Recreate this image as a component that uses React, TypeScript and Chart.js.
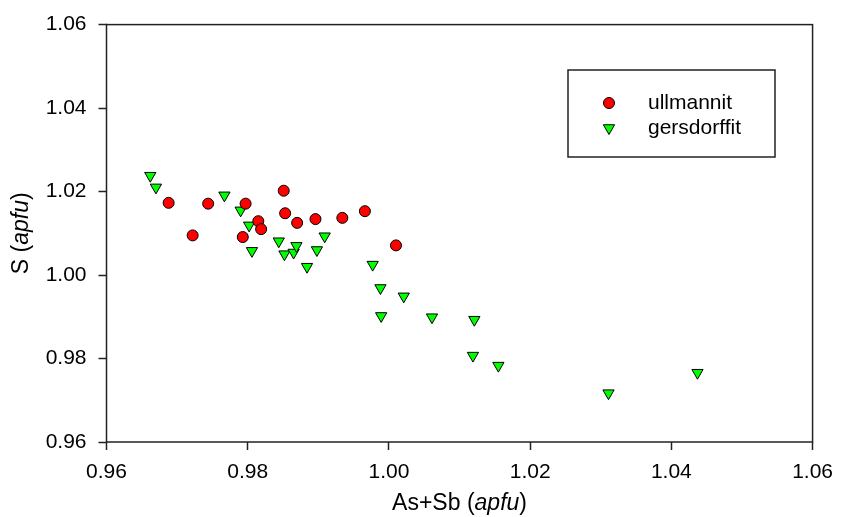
import React, { useEffect, useRef } from "react";
import { Chart, registerables } from "chart.js";

Chart.register(...registerables);

// ---- Data ----
const X_TICKS = [0.96, 0.98, 1.0, 1.02, 1.04, 1.06];
const Y_TICKS = [0.96, 0.98, 1.0, 1.02, 1.04, 1.06];

const SERIES_NAMES = ["ullmannit", "gersdorffit"];

const ULL_X = [0.9688, 0.9722, 0.9744, 0.9797, 0.9793, 0.9815, 0.9819, 0.9851, 0.9853, 0.987, 0.9896, 0.9934, 0.9966, 1.001];
const ULL_Y = [1.0173, 1.0095, 1.0171, 1.0171, 1.0091, 1.0129, 1.011, 1.0202, 1.0148, 1.0125, 1.0134, 1.0137, 1.0153, 1.0071];

const GER_X = [0.9662, 0.967, 0.9767, 0.979, 0.9802, 0.9806, 0.9844, 0.9852, 0.9865, 0.9869, 0.9884, 0.9898, 0.9909, 0.9977, 0.9988, 0.9989, 1.0021, 1.0061, 1.0121, 1.0119, 1.0155, 1.0311, 1.0437];
const GER_Y = [1.0238, 1.021, 1.0191, 1.0155, 1.0119, 1.0058, 1.0081, 1.005, 1.0054, 1.007, 1.002, 1.006, 1.0093, 1.0025, 0.9969, 0.9902, 0.9949, 0.9899, 0.9893, 0.9807, 0.9783, 0.9717, 0.9766];

const X_TITLE = [
  { text: "As+Sb (", italic: false },
  { text: "apfu", italic: true },
  { text: ")", italic: false },
];
const Y_TITLE = [
  { text: "S (", italic: false },
  { text: "apfu", italic: true },
  { text: ")", italic: false },
];

const FONT_FAMILY = "'Liberation Sans', Arial, sans-serif";
const AXIS_COLOR = "#222222";

type Part = { text: string; italic: boolean };

function drawRich(ctx: CanvasRenderingContext2D, parts: Part[], size: number) {
  const fontFor = (p: Part) => `${p.italic ? "italic " : ""}${size}px ${FONT_FAMILY}`;
  let total = 0;
  const widths = parts.map((p) => {
    ctx.font = fontFor(p);
    const w = ctx.measureText(p.text).width;
    total += w;
    return w;
  });
  let x = -total / 2;
  ctx.textAlign = "left";
  ctx.textBaseline = "middle";
  ctx.fillStyle = "#000";
  parts.forEach((p, i) => {
    ctx.font = fontFor(p);
    ctx.fillText(p.text, x, 0);
    x += widths[i];
  });
}

function drawMarker(ctx: CanvasRenderingContext2D, style: string, x: number, y: number, r: number, fill: string) {
  ctx.beginPath();
  if (style === "circle") {
    ctx.arc(x, y, r, 0, Math.PI * 2);
  } else {
    const h = r;
    ctx.moveTo(x, y + h);
    ctx.lineTo(x - h * Math.sin(Math.PI / 3), y - h / 2);
    ctx.lineTo(x + h * Math.sin(Math.PI / 3), y - h / 2);
    ctx.closePath();
  }
  ctx.fillStyle = fill;
  ctx.fill();
  ctx.lineWidth = 1;
  ctx.strokeStyle = "#000";
  ctx.stroke();
}

const decorPlugin = {
  id: "decor",
  afterDraw(chart: any) {
    const ctx: CanvasRenderingContext2D = chart.ctx;
    const a = chart.chartArea;
    ctx.save();
    // frame
    ctx.strokeStyle = AXIS_COLOR;
    ctx.lineWidth = 1.5;
    ctx.strokeRect(a.left, a.top, a.right - a.left, a.bottom - a.top);

    // axis titles
    ctx.save();
    ctx.translate((a.left + a.right) / 2, 504);
    drawRich(ctx, X_TITLE, 23);
    ctx.restore();

    ctx.save();
    ctx.translate(22, (a.top + a.bottom) / 2);
    ctx.rotate(-Math.PI / 2);
    drawRich(ctx, Y_TITLE, 23);
    ctx.restore();

    // legend
    const lx = 568, ly = 70, lw = 207, lh = 87;
    ctx.fillStyle = "#fff";
    ctx.fillRect(lx, ly, lw, lh);
    ctx.strokeStyle = AXIS_COLOR;
    ctx.lineWidth = 1.5;
    ctx.strokeRect(lx, ly, lw, lh);
    const ds = chart.data.datasets;
    ds.forEach((d: any, i: number) => {
      const yy = 103 + i * 25;
      drawMarker(ctx, d.pointStyle, 609, yy, d.pointStyle === "circle" ? 5.5 : 6.5, d.backgroundColor);
      ctx.font = `21px ${FONT_FAMILY}`;
      ctx.fillStyle = "#000";
      ctx.textAlign = "left";
      ctx.textBaseline = "middle";
      ctx.fillText(d.label, 648, yy);
    });
    ctx.restore();
  },
};

export default function App() {
  const ref = useRef<HTMLCanvasElement | null>(null);

  useEffect(() => {
    document.body.style.margin = "0";
    const canvas = ref.current;
    if (!canvas) return;

    const tickFmt = (v: any) => Number(v).toFixed(2);

    const chart = new Chart(canvas, {
      type: "scatter",
      data: {
        datasets: [
          {
            label: SERIES_NAMES[0],
            data: ULL_X.map((x, i) => ({ x, y: ULL_Y[i] })),
            pointStyle: "circle",
            pointRadius: 5.5,
            backgroundColor: "#ff0000",
            borderColor: "#000000",
            borderWidth: 1,
          },
          {
            label: SERIES_NAMES[1],
            data: GER_X.map((x, i) => ({ x, y: GER_Y[i] })),
            pointStyle: "triangle",
            rotation: 180,
            pointRadius: 6.5,
            backgroundColor: "#00ff00",
            borderColor: "#000000",
            borderWidth: 1,
          } as any,
        ],
      },
      options: {
        responsive: false,
        animation: false,
        devicePixelRatio: 1,
        layout: { padding: { top: 21, right: 24, left: 0, bottom: 0 } },
        plugins: {
          legend: { display: false },
          tooltip: { enabled: false },
          title: { display: false },
        },
        scales: {
          x: {
            type: "linear",
            min: X_TICKS[0],
            max: X_TICKS[X_TICKS.length - 1],
            afterBuildTicks: (s: any) => {
              s.ticks = X_TICKS.map((v) => ({ value: v }));
            },
            afterFit: (s: any) => {
              s.height = 75;
            },
            ticks: {
              callback: tickFmt,
              color: "#000",
              font: { family: FONT_FAMILY, size: 21 },
              padding: 10,
              maxRotation: 0,
              autoSkip: false,
            },
            grid: {
              drawOnChartArea: false,
              drawTicks: true,
              tickLength: 8,
              tickWidth: 1.5,
              tickColor: AXIS_COLOR,
              color: AXIS_COLOR,
            },
            border: { display: false },
          },
          y: {
            type: "linear",
            min: Y_TICKS[0],
            max: Y_TICKS[Y_TICKS.length - 1],
            afterBuildTicks: (s: any) => {
              s.ticks = Y_TICKS.map((v) => ({ value: v }));
            },
            afterFit: (s: any) => {
              s.width = 106.5;
            },
            ticks: {
              callback: tickFmt,
              color: "#000",
              font: { family: FONT_FAMILY, size: 21 },
              padding: 12,
              autoSkip: false,
            },
            grid: {
              drawOnChartArea: false,
              drawTicks: true,
              tickLength: 8,
              tickWidth: 1.5,
              tickColor: AXIS_COLOR,
              color: AXIS_COLOR,
            },
            border: { display: false },
          },
        },
      },
      plugins: [decorPlugin],
    });

    return () => chart.destroy();
  }, []);

  return (
    <div style={{ width: 843, height: 517 }}>
      <canvas ref={ref} width={843} height={517} style={{ display: "block" }} />
    </div>
  );
}
